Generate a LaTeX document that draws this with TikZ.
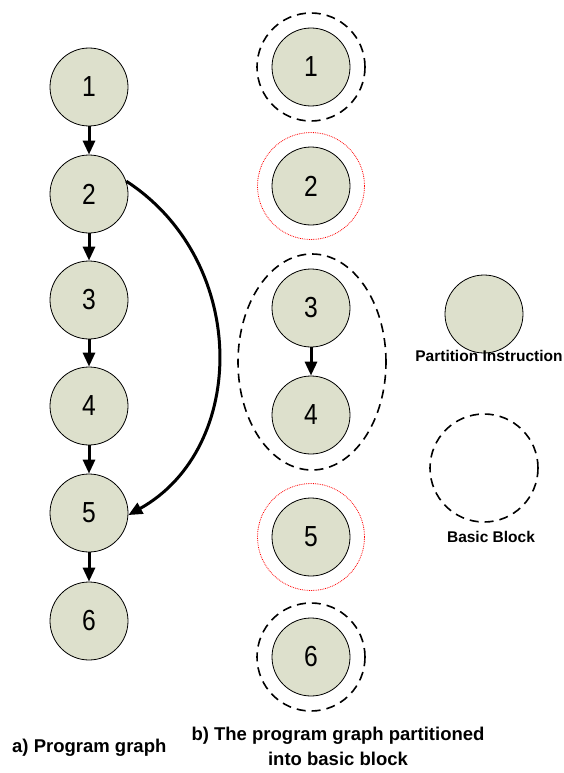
\documentclass[tikz,border=0pt]{standalone}
\usepackage{fontspec}
\setmainfont{Liberation Sans}
\newfontfamily\numfont[FakeStretch=0.85]{Liberation Sans}
\usetikzlibrary{arrows.meta,shapes.geometric}
\definecolor{nodefill}{RGB}{221,224,204}
\begin{document}
\begin{tikzpicture}[x=1pt,y=-1pt,
  inst/.style={circle,draw=black,line width=0.8pt,fill=nodefill,minimum size=78pt,inner sep=0pt,font=\numfont\fontsize{29}{29}\selectfont},
  arr/.style={line width=3pt,-{Triangle[length=14pt,width=12pt]}},
  block/.style={circle,draw=black,line width=1.6pt,dash pattern=on 9pt off 6pt,minimum size=108pt,inner sep=0pt},
  redring/.style={circle,draw=red,line width=0.8pt,densely dotted,minimum size=107pt,inner sep=0pt},
  lbl/.style={font=\bfseries\fontsize{15.5}{18}\selectfont,inner sep=0pt},
  captext/.style={font=\bfseries\fontsize{18.5}{25}\selectfont,align=center,inner sep=0pt}]
\path[use as bounding box] (0,0) rectangle (564,773);
% left: program graph
\node[inst] (a1) at (89,87) {1};
\node[inst] (a2) at (89,194) {2};
\node[inst] (a3) at (89,300) {3};
\node[inst] (a4) at (89,406) {4};
\node[inst] (a5) at (89,513) {5};
\node[inst] (a6) at (89,621) {6};
\draw[arr] (a1) -- (a2);
\draw[arr] (a2) -- (a3);
\draw[arr] (a3) -- (a4);
\draw[arr] (a4) -- (a5);
\draw[arr] (a5) -- (a6);
\draw[arr] (a2.19) .. controls +(123,80) and +(120,-67) .. (a5.-3);
% right: partitioned graph
\node[inst] (b1) at (311,67) {1};
\node[block] (r1) at (311,67) {};
\node[inst] (b2) at (311,186) {2};
\node[redring] (r2) at (311,186) {};
\node[inst] (b3) at (311,308) {3};
\node[inst] (b4) at (311,415) {4};
\draw[arr] (b3) -- (b4);
\node[draw=black,line width=1.6pt,dash pattern=on 9pt off 6pt,ellipse,minimum width=148pt,minimum height=216pt,inner sep=0pt] (r34) at (312,362) {};
\node[inst] (b5) at (311,537) {5};
\node[redring] (r5) at (311,537) {};
\node[inst] (b6) at (311,657) {6};
\node[block] (r6) at (311,657) {};
% legend
\node[inst] (l1) at (484,314) {};
\node[lbl,anchor=base] (l1t) at (489,361) {Partition Instruction};
\node[block] (l2) at (484,468) {};
\node[lbl,anchor=base] (l2t) at (491,542) {Basic Block};
% captions
\node[captext,anchor=base west] (ca) at (12,752) {a) Program graph};
\node[captext,anchor=base] (cb) at (338,765) {b) The program graph partitioned\\into basic block};
\end{tikzpicture}
\end{document}
